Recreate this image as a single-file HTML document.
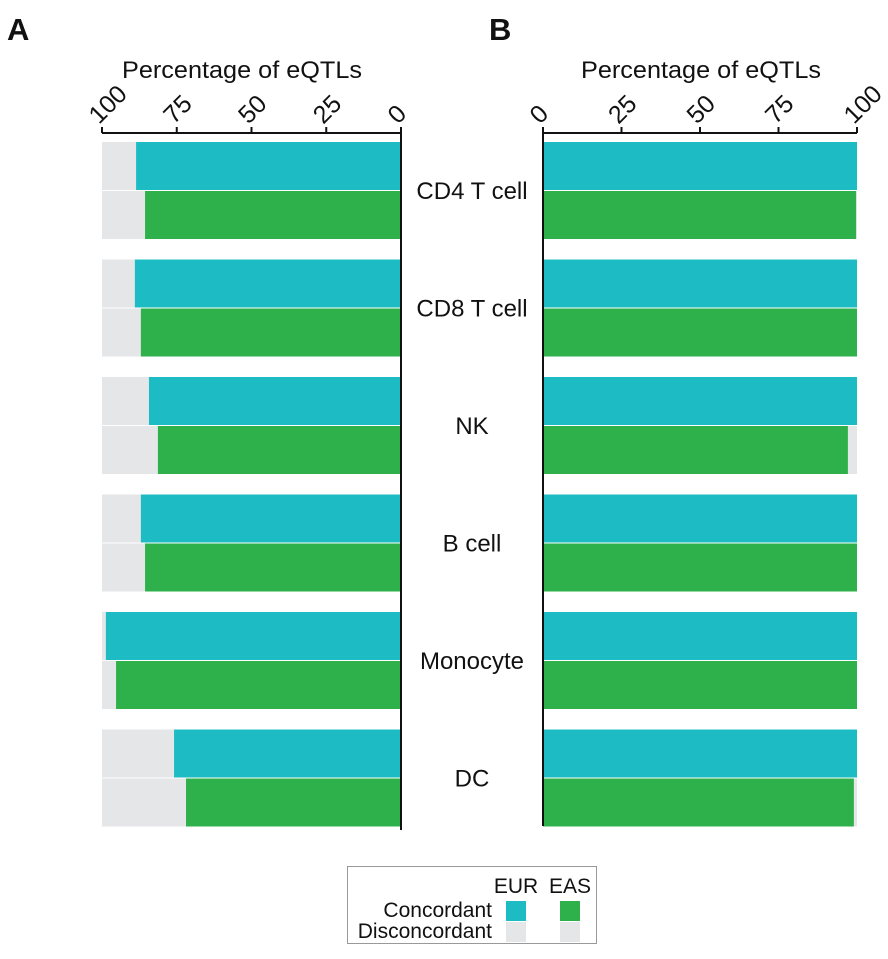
<!DOCTYPE html>
<html><head><meta charset="utf-8"><style>
body{margin:0;background:#fff;}
svg text{font-family:"Liberation Sans",Arial,sans-serif;fill:#111;}
</style></head><body>
<svg width="888" height="954" viewBox="0 0 888 954">
<g id="root"></g>
</svg>
<script>
const categories=["CD4 T cell","CD8 T cell","NK","B cell","Monocyte","DC"];
const aEUR=[88.6,89.0,84.3,87.0,98.7,75.9];
const aEAS=[85.6,87.0,81.3,85.6,95.3,71.9];
const bEUR=[100,100,100,100,100,100];
const bEAS=[99.7,100,97.1,100,100,99.0];
const ticks=[0,25,50,75,100];
const NS="http://www.w3.org/2000/svg";
const root=document.getElementById('root');
function mk(tag,attrs,parent){const e=document.createElementNS(NS,tag);for(const k in attrs)e.setAttribute(k,attrs[k]);(parent||root).appendChild(e);return e;}
const xA=v=>401-v*2.99;
const xB=v=>543+v*3.14;
const groupY=i=>142+i*117.5;
const barH=48;
const TEAL="#1dbcc4",GREEN="#2eb14b",GREY="#e5e6e8";
let t=mk('text',{x:7,y:40,'font-size':31,'font-weight':'bold'});t.textContent="A";


t=mk('text',{x:489,y:40,'font-size':31,'font-weight':'bold'});t.textContent="B";


t=mk('text',{x:242,y:78,'font-size':24,'text-anchor':'middle',textLength:240,lengthAdjust:'spacingAndGlyphs'});t.textContent="Percentage of eQTLs";


t=mk('text',{x:701,y:78,'font-size':24,'text-anchor':'middle',textLength:240,lengthAdjust:'spacingAndGlyphs'});t.textContent="Percentage of eQTLs";


categories.forEach((c,i)=>{
  const y=groupY(i);
  let r=mk('rect',{x:xA(100),y:y,width:xA(0)-xA(100),height:barH,fill:GREY});
  
  
  r=mk('rect',{x:xA(aEUR[i]),y:y,width:xA(0)-xA(aEUR[i]),height:barH,fill:TEAL});
  
  
  r=mk('rect',{x:xA(100),y:y+barH+1,width:xA(0)-xA(100),height:barH,fill:GREY});
  
  
  r=mk('rect',{x:xA(aEAS[i]),y:y+barH+1,width:xA(0)-xA(aEAS[i]),height:barH,fill:GREEN});
  
  
  r=mk('rect',{x:xB(0),y:y,width:xB(100)-xB(0),height:barH,fill:GREY});
  
  
  r=mk('rect',{x:xB(0),y:y,width:xB(bEUR[i])-xB(0),height:barH,fill:TEAL});
  
  
  r=mk('rect',{x:xB(0),y:y+barH+1,width:xB(100)-xB(0),height:barH,fill:GREY});
  
  
  r=mk('rect',{x:xB(0),y:y+barH+1,width:xB(bEAS[i])-xB(0),height:barH,fill:GREEN});
  
  
  const l=mk('text',{x:472,y:y+barH+9,'font-size':24,'text-anchor':'middle'});l.textContent=c;
  
  
});
let ln=mk('line',{x1:xA(100),x2:xA(0),y1:133,y2:133,stroke:'#111','stroke-width':2});


ln=mk('line',{x1:xA(0),x2:xA(0),y1:133,y2:830,stroke:'#111','stroke-width':2});


ln=mk('line',{x1:xB(0),x2:xB(100),y1:133,y2:133,stroke:'#111','stroke-width':2});


ln=mk('line',{x1:xB(0),x2:xB(0),y1:133,y2:826,stroke:'#111','stroke-width':2});


ticks.forEach(v=>{
  [[xA,'a'],[xB,'b']].forEach(([f,p])=>{
    const x=f(v);
    const tk=mk('line',{x1:x,x2:x,y1:127,y2:133,stroke:'#111','stroke-width':2});
    
    
    const tl=mk('text',{x:x-3,y:125,'font-size':25,transform:`rotate(-45 ${x-3} 125)`});
    tl.textContent=v;
    
    
  });
});
const lg=mk('g',{});


mk('rect',{x:347.5,y:866.5,width:249,height:77,fill:'#fff',stroke:'#999','stroke-width':1},lg);
let lt=mk('text',{x:516,y:893,'font-size':21,'text-anchor':'middle'},lg);lt.textContent="EUR";
lt=mk('text',{x:570,y:893,'font-size':21,'text-anchor':'middle'},lg);lt.textContent="EAS";
lt=mk('text',{x:492,y:917,'font-size':21,'text-anchor':'end'},lg);lt.textContent="Concordant";
lt=mk('text',{x:492,y:938,'font-size':21,'text-anchor':'end'},lg);lt.textContent="Disconcordant";
mk('rect',{x:506,y:901,width:20,height:20,fill:TEAL},lg);
mk('rect',{x:560,y:901,width:20,height:20,fill:GREEN},lg);
mk('rect',{x:506,y:922,width:20,height:20,fill:GREY},lg);
mk('rect',{x:560,y:922,width:20,height:20,fill:GREY},lg);
</script>
</body></html>
